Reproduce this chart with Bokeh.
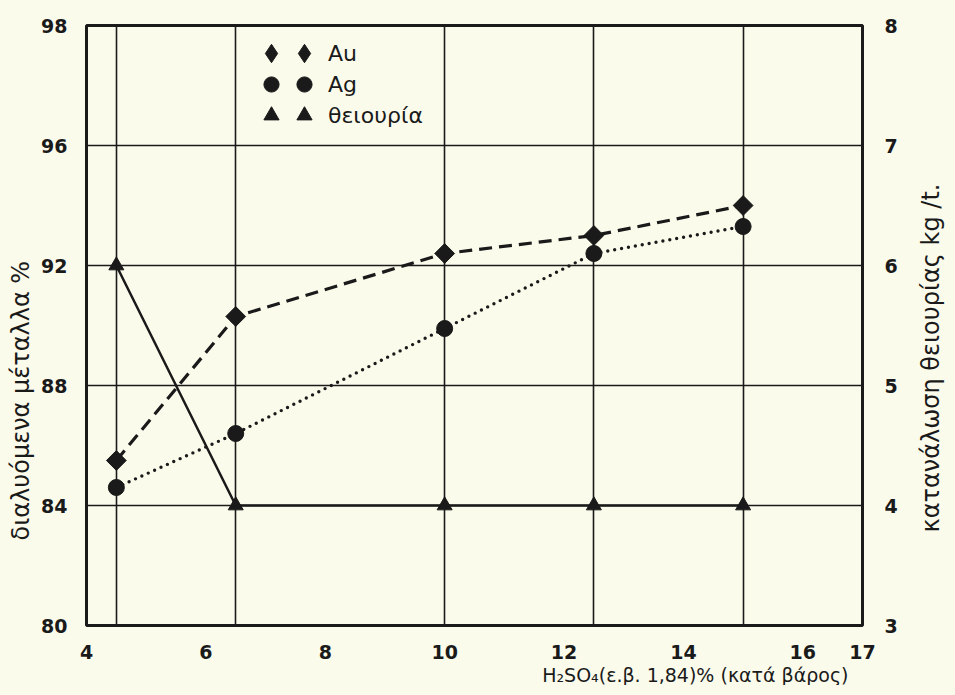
import math
from bokeh.plotting import figure
from bokeh.layouts import row
from bokeh.models import Range1d, LinearAxis, FixedTicker, Legend, LegendItem, Title
from bokeh.embed import file_html
from bokeh.resources import INLINE

# ---- data ----
acid = [4.5, 6.5, 10, 12.5, 15]            # H2SO4 % (x)
au = [85.5, 90.3, 92.4, 93.0, 94.0]          # dissolved Au %
ag = [84.6, 86.4, 89.9, 92.4, 93.3]          # dissolved Ag %
thio = [6.0, 4.0, 4.0, 4.0, 4.0]             # thiourea consumption kg/t

x_ticks = [4, 6, 8, 10, 12, 14, 16, 17]
left_ticks = [80, 84, 88, 92, 96, 100]
left_tick_labels = ["80", "84", "88", "92", "96", "98"]
right_ticks = [3, 4, 5, 6, 7, 8]
left_grid = [84, 88, 92, 96]

x_title = "H₂SO₄(ε.β. 1,84)% (κατά βάρος)"
left_title = "διαλυόμενα μέταλλα %"
right_title = "κατανάλωση θειουρίας kg /t."
names = ["Au", "Ag", "θειουρία"]

BG = "#fbfbec"
INK = "#1a1a1a"
FONT = "DejaVu Sans"

p = figure(frame_width=776, frame_height=600,
           x_range=Range1d(4, 17), y_range=Range1d(80, 100),
           output_backend="svg", toolbar_location=None,
           min_border_left=80, min_border_right=52,
           min_border_top=25, min_border_bottom=54,
           background_fill_color=BG, border_fill_color=BG,
           outline_line_color=INK, outline_line_width=3)

p.extra_y_ranges = {"right": Range1d(3, 8)}

# grid
p.xgrid.ticker = FixedTicker(ticks=acid)
p.ygrid.ticker = FixedTicker(ticks=left_grid)
for g in (p.xgrid, p.ygrid):
    g.grid_line_color = INK
    g.grid_line_width = 1.6
    g.grid_line_alpha = 1.0

# axes
xa = p.xaxis[0]
xa.ticker = FixedTicker(ticks=x_ticks)
ya = p.yaxis[0]
ya.ticker = FixedTicker(ticks=left_ticks)
ya.major_label_overrides = dict(zip(left_ticks, left_tick_labels))

ra = LinearAxis(y_range_name="right", ticker=FixedTicker(ticks=right_ticks))
p.add_layout(ra, "right")

for ax in (xa, ya, ra):
    ax.axis_line_color = None
    ax.major_tick_line_color = None
    ax.minor_tick_line_color = None
    ax.major_label_text_font = FONT
    ax.major_label_text_font_size = "19px"
    ax.major_label_text_font_style = "bold"
    ax.major_label_text_color = INK
xa.major_label_standoff = 13
ya.major_label_standoff = 13
ra.major_label_standoff = 16

# axis titles placed like the hand lettering
p.add_layout(Title(text=left_title, align="left", offset=85, standoff=8,
                   text_font=FONT, text_font_size="24px",
                   text_font_style="normal", text_color=INK), "left")
p.add_layout(Title(text=x_title, align="right", offset=14, standoff=0,
                   text_font=FONT, text_font_size="19px",
                   text_font_style="normal", text_color=INK), "below")

# lines
p.line(acid, thio, y_range_name="right", line_color=INK, line_width=2.5)
p.line(acid, au, line_color=INK, line_width=3.2, line_dash="13 7")
p.line(acid, ag, line_color=INK, line_width=3.4, line_dash="0 7", line_cap="round")

# markers (the diamond under each rotated square gives the legend its diamond)
r_au_leg = p.scatter(acid, au, marker="diamond", size=12, fill_color=INK, line_color=INK)
r_au = p.scatter(acid, au, marker="square", angle=math.pi / 4, size=14,
                 fill_color=INK, line_color=INK)
r_ag = p.scatter(acid, ag, marker="circle", size=16, fill_color=INK, line_color=INK)
r_th = p.scatter(acid, thio, y_range_name="right", marker="triangle", size=15,
                 fill_color=INK, line_color=INK)

# legend: two marker columns, then the name (one small legend per cell)
legend_rends = [r_au_leg, r_ag, r_th]
row_centers = [53, 84, 115]      # screen px from top of page
col_centers = [273, 306]         # screen px from left of page
box = [46, 38, 38]
FRAME_LEFT, FRAME_BOTTOM = 88, 625
for i, (rend, name) in enumerate(zip(legend_rends, names)):
    G = box[i]
    for j, xc in enumerate(col_centers):
        lab = name if j == 1 else " "
        lg = Legend(items=[LegendItem(label=lab, renderers=[rend])],
                    location=(xc - G / 2 - FRAME_LEFT, FRAME_BOTTOM - row_centers[i] - G / 2),
                    glyph_width=G, glyph_height=G, label_height=G,
                    padding=0, margin=0, spacing=0,
                    label_standoff=int(330 - (xc + G / 2)) if j == 1 else 0,
                    background_fill_alpha=0, border_line_alpha=0,
                    label_text_font=FONT, label_text_font_size="22px",
                    label_text_color=INK, label_text_baseline="middle")
        p.add_layout(lg)

# narrow strip on the right that carries the right-hand axis title,
# reading bottom-to-top like the original
q = figure(width=31, height=679, frame_height=600,
           output_backend="svg", toolbar_location=None,
           x_axis_type=None, y_axis_type=None,
           min_border_left=0, min_border_right=0,
           min_border_top=25, min_border_bottom=54,
           background_fill_color=BG, border_fill_color=BG,
           outline_line_color=None)
q.xgrid.visible = False
q.ygrid.visible = False
q.add_layout(Title(text=right_title, align="left", offset=93, standoff=0,
                   text_font=FONT, text_font_size="24px",
                   text_font_style="normal", text_color=INK), "left")

page = row(p, q, spacing=0)

html = file_html(page, INLINE)
html = html.replace("<body>", '<body style="background:%s">' % BG)
open("out.html", "w").write(html)
